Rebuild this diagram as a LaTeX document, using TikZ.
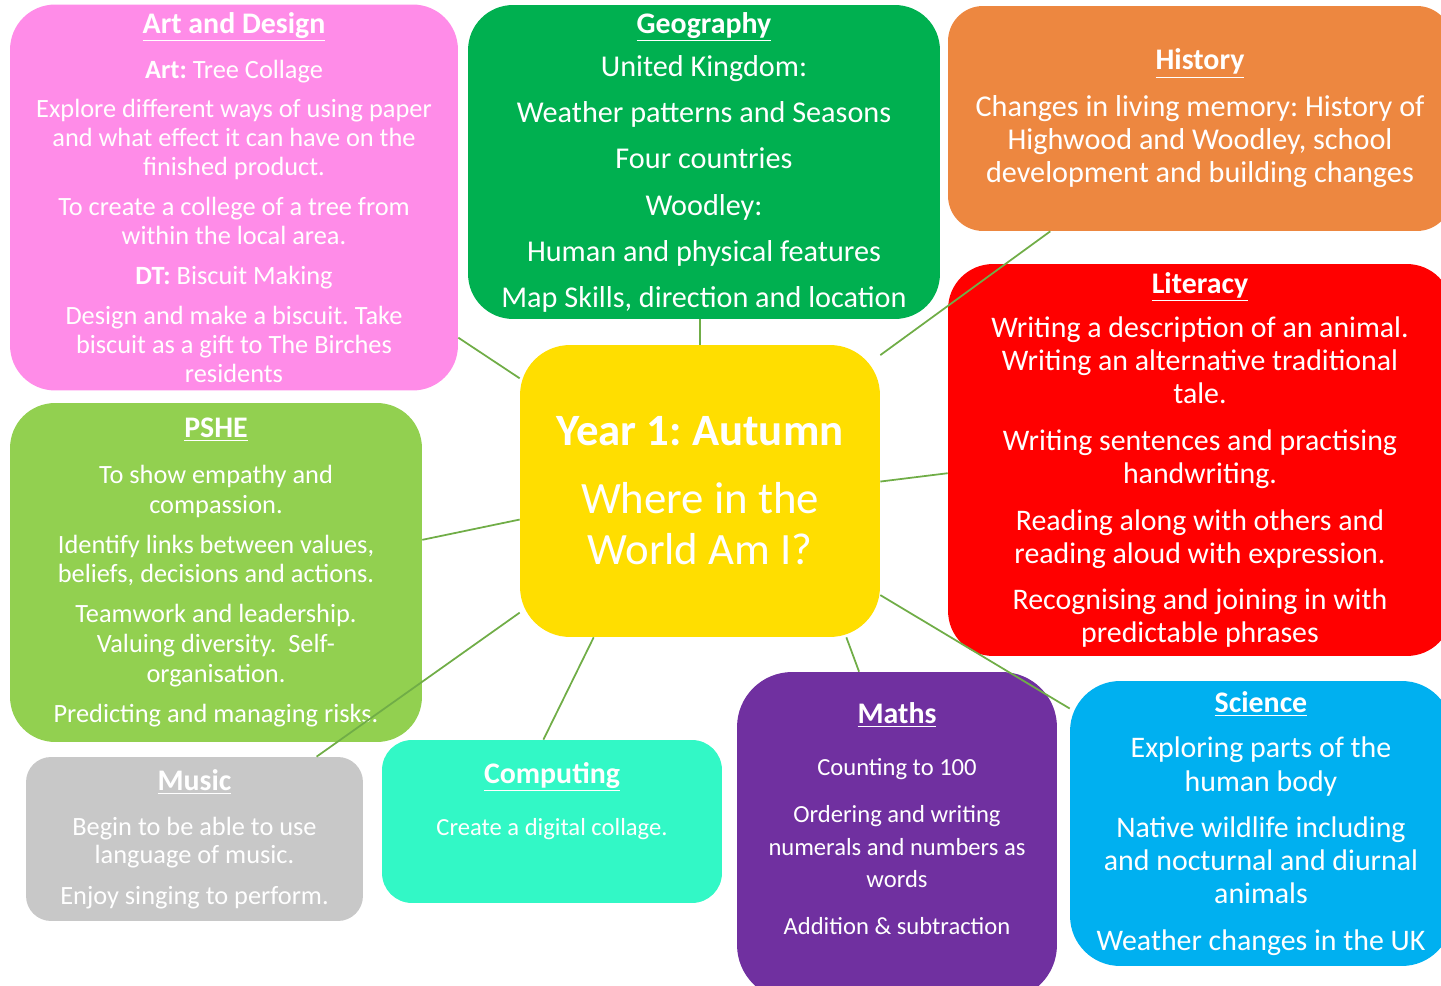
\documentclass[tikz,border=0pt]{standalone}
\usepackage{fontspec}
\setmainfont{Carlito}
\usepackage{tikz}
\definecolor{artpink}{RGB}{255,140,232}
\definecolor{geogreen}{RGB}{0,176,80}
\definecolor{historange}{RGB}{237,135,64}
\definecolor{litred}{RGB}{255,0,0}
\definecolor{pshegreen}{RGB}{146,208,80}
\definecolor{topicyellow}{RGB}{255,222,0}
\definecolor{musicgrey}{RGB}{200,200,200}
\definecolor{compturq}{RGB}{50,248,198}
\definecolor{mathspurple}{RGB}{112,48,160}
\definecolor{sciblue}{RGB}{0,176,240}
\definecolor{linkgreen}{RGB}{112,173,71}
\newcommand{\subj}[1]{{\fontsize{17pt}{20pt}\selectfont\bfseries\underline{#1}}}
\frenchspacing

\begin{document}
\begin{tikzpicture}[x=0.02cm,y=-0.02cm,
	box/.style={rectangle,rounded corners=0.9cm,text=white,align=center,inner sep=0pt},
	link/.style={draw=linkgreen,line width=1pt}]
	\useasboundingbox (0,0) rectangle (1441,986);
	\clip (0,0) rectangle (1441,986);
	\node[box,fill=artpink,minimum width=8.96cm,minimum height=7.72cm,font=\fontsize{15pt}{16.5pt}\selectfont] (art) at (234,197.5) {\subj{Art and Design}\\[9pt]
		\textbf{Art:} Tree Collage\\[6.2pt]
		Explore different ways of using paper\\ and what effect it can have on the\\ finished product.\\[6.2pt]
		To create a college of a tree from\\ within the local area.\\[6.2pt]
		\textbf{DT:} Biscuit Making\\[6.2pt]
		Design and make a biscuit. Take\\ biscuit as a gift to The Birches\\ residents};
	\node[box,fill=geogreen,minimum width=9.44cm,minimum height=6.28cm,font=\fontsize{17.2pt}{20pt}\selectfont] (geo) at (704,162) {\subj{Geography}\\[5pt]
		United Kingdom:\\[6.2pt]
		Weather patterns and Seasons\\[6.2pt]
		Four countries\\[6.2pt]
		Woodley:\\[6.2pt]
		Human and physical features\\[6.2pt]
		Map Skills, direction and location};
	\node[box,fill=historange,rounded corners=0.7cm,minimum width=10.08cm,minimum height=4.5cm,font=\fontsize{17.2pt}{19pt}\selectfont] (hist) at (1200,118.5) {\subj{History}\\[7.2pt]
		Changes in living memory: History of\\ Highwood and Woodley, school\\ development and building changes};
	\node[box,fill=litred,minimum width=10.08cm,minimum height=7.84cm,font=\fontsize{17pt}{18.8pt}\selectfont] (lit) at (1200,460) {\subj{Literacy}\\[6.2pt]
		Writing a description of an animal.\\ Writing an alternative traditional\\ tale.\\[7.9pt]
		Writing sentences and practising\\ handwriting.\\[7.9pt]
		Reading along with others and\\ reading aloud with expression.\\[7.9pt]
		Recognising and joining in with\\ predictable phrases};
	\node[box,fill=pshegreen,minimum width=8.24cm,minimum height=6.78cm,font=\fontsize{15pt}{16.8pt}\selectfont] (pshe) at (216,572.5) {\subj{PSHE}\\[9.3pt]
		To show empathy and\\ compassion.\\[6pt]
		Identify links between values,\\ beliefs, decisions and actions.\\[6pt]
		Teamwork and leadership.\\ Valuing diversity.\ \ Self-\\ organisation.\\[6pt]
		Predicting and managing risks.};
	\node[box,fill=topicyellow,rounded corners=1cm,minimum width=7.2cm,minimum height=5.84cm,font=\fontsize{25.5pt}{29pt}\selectfont] (yr) at (700,491) {\textbf{Year 1: Autumn}\\[9.7pt]
		Where in the\\ World Am I?};
	\node[box,fill=musicgrey,rounded corners=0.5cm,minimum width=6.74cm,minimum height=3.28cm,font=\fontsize{15pt}{16pt}\selectfont] (music) at (194.5,839) {\subj{Music}\\[9.6pt]
		Begin to be able to use\\ language of music.\\[7.3pt]
		Enjoy singing to perform.};
	\node[box,fill=compturq,rounded corners=0.6cm,minimum width=6.8cm,minimum height=3.26cm,text depth=26pt,font=\fontsize{14pt}{17pt}\selectfont] (comp) at (552,821.5) {\subj{Computing}\\[12.6pt]
		Create a digital collage.};
	\node[box,fill=mathspurple,rounded corners=1.1cm,minimum width=6.4cm,minimum height=6.56cm,text depth=20pt,font=\fontsize{14pt}{18.5pt}\selectfont] (maths) at (897,836) {\subj{Maths}\\[11.2pt]
		Counting to 100\\[8.2pt]
		Ordering and writing\\ numerals and numbers as\\ words\\[8.2pt]
		Addition \& subtraction};
	\node[box,fill=sciblue,rounded corners=1cm,minimum width=7.64cm,minimum height=5.7cm,font=\fontsize{17pt}{19pt}\selectfont] (sci) at (1261,823.5) {\subj{Science}\\[6.6pt]
		Exploring parts of the\\ human body\\[7.2pt]
		Native wildlife including\\ and nocturnal and diurnal\\ animals\\[7.2pt]
		Weather changes in the UK};
	\draw[link] (yr.148) -- (art.-32);
	\draw[link] (yr.north) -- (yr.north |- geo.south);
	\draw[link] (yr.37) -- (hist.-143.5);
	\draw[link] (yr.3.8) -- (lit.183.4);
	\draw[link] (yr.189.4) -- (pshe.9.7);
	\draw[link] (yr.214.7) -- (music.34.7);
	\draw[link] (yr.234.5) -- (comp.96.3);
	\draw[link] (yr.-45.4) -- (maths.103.4);
	\draw[link] (yr.-30.4) -- (sci.149.5);
\end{tikzpicture}
\end{document}
